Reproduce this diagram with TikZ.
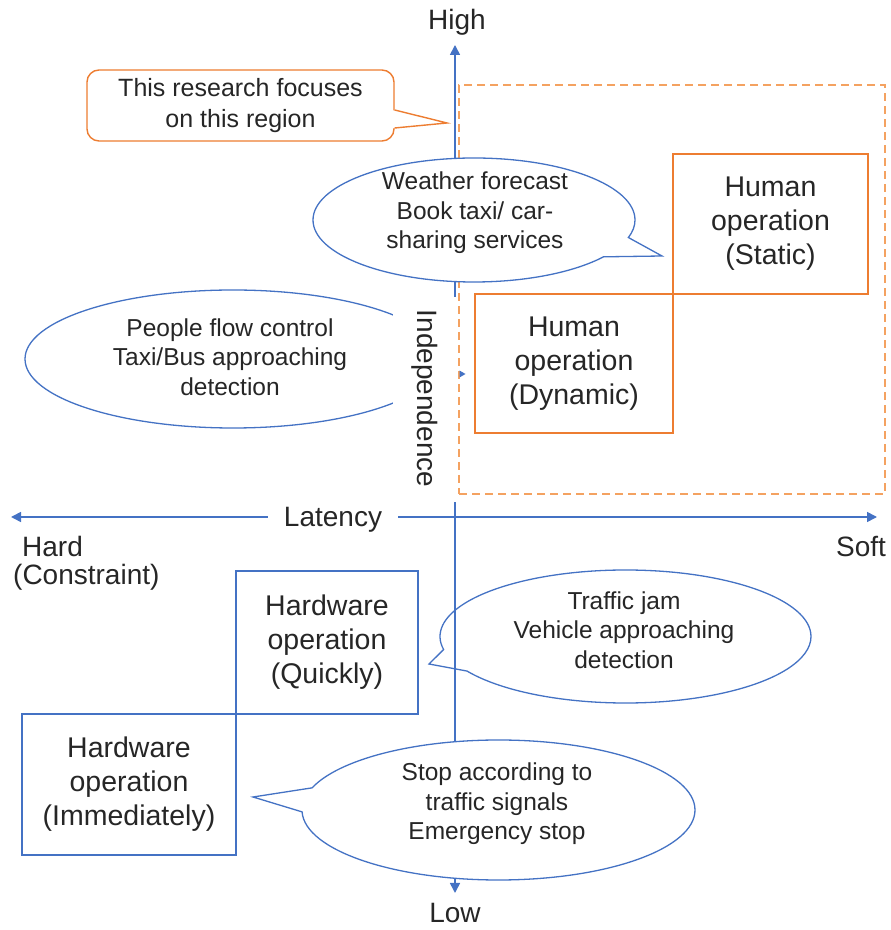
\documentclass[tikz,border=0pt]{standalone}
\usepackage{fontspec}
\setmainfont{Liberation Sans}
\usetikzlibrary{arrows.meta,shapes.callouts,shapes.geometric}
\definecolor{axisblue}{HTML}{4472C4}
\definecolor{boxorange}{HTML}{ED7D31}
\definecolor{dashorange}{HTML}{F4A261}
\definecolor{inkgray}{HTML}{262626}

\begin{document}
\begin{tikzpicture}[x=1pt,y=1pt,
  axis/.style={draw=axisblue, line width=1.6pt,
    {Triangle[length=10pt,width=10pt]}-{Triangle[length=10pt,width=10pt]}},
  axislabel/.style={text=inkgray, font=\fontsize{28}{34}\selectfont, inner sep=0pt},
  bubble/.style={ellipse callout, draw=axisblue, fill=white, line width=1.3pt,
    inner sep=0pt, callout pointer arc=20},
  bubbletext/.style={text=inkgray, font=\fontsize{24.5}{29.5}\selectfont,
    align=center, inner sep=0pt},
  humanbox/.style={draw=boxorange, line width=1.6pt, inner sep=0pt, text=inkgray,
    font=\fontsize{28.5}{34}\selectfont, align=center},
  hwbox/.style={draw=axisblue, line width=1.3pt, inner sep=0pt, text=inkgray,
    font=\fontsize{28.5}{34}\selectfont, align=center},
  notebox/.style={draw=boxorange, fill=white, line width=1.4pt, rounded corners=12pt,
    inner sep=0pt, text=inkgray, font=\fontsize{25}{31}\selectfont, align=center},
]
\useasboundingbox (0,0) rectangle (891,930);

% traffic jam bubble lies behind the vertical axis
\node[bubble, minimum width=371pt, minimum height=133pt,
  callout absolute pointer={(429,266)}] (jam) at (625.5,293.5) {};

% axes
\coordinate (vtop) at (455,885);
\coordinate (vbot) at (455,37);
\coordinate (hleft) at (11,413);
\coordinate (hright) at (877,413);
\draw[axis] (vbot) -- (vtop);
\draw[axis] (hleft) -- (hright);
\node[axislabel, anchor=base, fill=white, inner xsep=16pt, inner ysep=3pt] (latency) at (333,403) {Latency};

\node[axislabel, anchor=base] (high) at (457,900) {High};
\node[axislabel, anchor=base] (low) at (455,7) {Low};
\node[axislabel, anchor=base west] (hard) at (22,373) {Hard};
\node[axislabel, anchor=base west] (constraint) at (13,345) {(Constraint)};
\node[axislabel, anchor=base] (soft) at (861,373) {Soft};

% region of interest
\node[draw=dashorange, line width=1.5pt, dash pattern=on 8pt off 5pt,
  minimum width=426pt, minimum height=409pt, inner sep=0pt] (focus) at (672,640.5) {};

% human operation boxes
\node[humanbox, minimum width=195pt, minimum height=140pt] (static) at (770.5,706) {Human\\operation\\(Static)};
\node[humanbox, minimum width=198pt, minimum height=139pt] (dynamic) at (574,566.5) {Human\\operation\\(Dynamic)};

% weather bubble
\node[bubble, minimum width=322pt, minimum height=124pt,
  callout absolute pointer={(662,674)}] (weather) at (474,710) {};
\node[bubbletext] (weathertext) at (475,717) {Weather forecast\\Book taxi/ car-\\sharing services};

% people flow bubble, partly hidden by the vertical label
\node[ellipse, draw=axisblue, fill=white, line width=1.3pt, inner sep=0pt,
  minimum width=416pt, minimum height=138pt] (people) at (233,571) {};
\node[bubbletext] (peopletext) at (230,573) {People flow control\\Taxi/Bus approaching\\detection};

\fill[white] (393,428) rectangle (457.5,633);
\node[axislabel, rotate=-90, anchor=base] (independence) at (417,531.5) {Independence};
\fill[axisblue] (459.5,559.5) -- (465.5,556) -- (459.5,552.5) -- cycle;

% lower bubbles
\node[bubble, minimum width=393pt, minimum height=140pt,
  callout absolute pointer={(253,133)}] (stop) at (498.5,120) {};
\node[bubbletext] (stoptext) at (497,126) {Stop according to\\traffic signals\\Emergency stop};
\node[bubbletext] (jamtext) at (624,300) {Traffic jam\\Vehicle approaching\\detection};

% hardware operation boxes
\node[hwbox, minimum width=182pt, minimum height=143pt] (quick) at (327,287.5) {Hardware\\operation\\(Quickly)};
\node[hwbox, minimum width=214pt, minimum height=141pt] (immediate) at (129,145.5) {Hardware\\operation\\(Immediately)};

% note callout
\node[notebox, minimum width=307pt, minimum height=71pt] (note) at (240.5,824.5) {This research focuses\\on this region};
\coordinate (notetip) at (447,807);
\fill[white] ([xshift=-3pt,yshift=-4.5pt]note.east) -- (notetip) -- ([xshift=-3pt,yshift=-22.5pt]note.east) -- cycle;
\draw[boxorange, line width=1.4pt] ([yshift=-4.5pt]note.east) -- (notetip) -- ([yshift=-22.5pt]note.east);
\end{tikzpicture}
\end{document}
